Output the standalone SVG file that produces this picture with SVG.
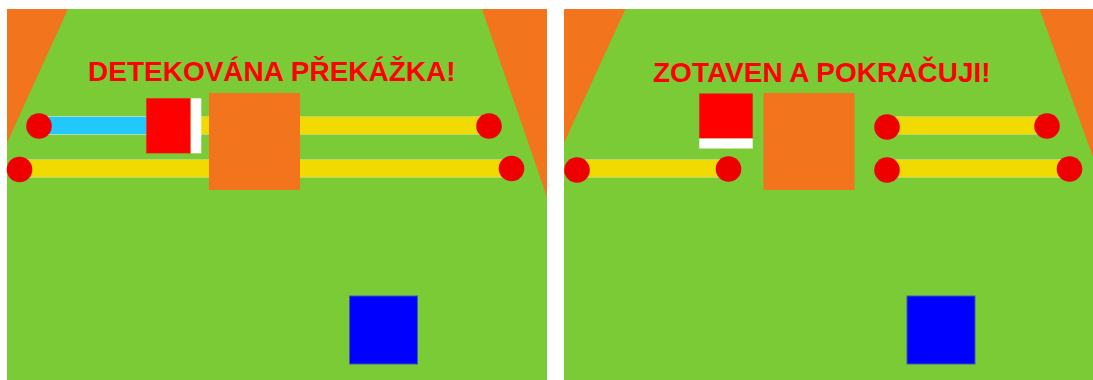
<svg xmlns="http://www.w3.org/2000/svg" width="1093" height="380" viewBox="0 0 1093 380">
<style>
.field{fill:#7acb36}
.wall{fill:#f2741d}
.bar{fill:#f0da00;stroke:#b9d96a;stroke-width:1}
.cyan{fill:#22c7fb;stroke:#a9dcc0;stroke-width:1}
.joint{fill:#ee0000}
.robot{fill:#ff0000}
.bumper{fill:#ffffff}
.obstacle{fill:#f2741d}
.goal{fill:#0000ff;stroke:#3a5fa8;stroke-width:1}
.msg{font-family:"Liberation Sans",Arial,sans-serif;font-weight:bold;font-size:28px;fill:#ff0000}
</style>
<rect width="1093" height="380" fill="#ffffff"/>
<g id="panel-left">
  <rect class="field" x="7" y="9" width="540" height="371"/>
  <polygon class="wall" points="7,9 68,9 7,143"/>
  <polygon class="wall" points="482,9 547,9 547,197"/>
  <text class="msg" x="88" y="81">DETEKOVÁNA PŘEKÁŽKA!</text>
  <g id="left-bar-top">
    <rect class="bar" x="39" y="116.5" width="450" height="18"/>
    <rect class="cyan" x="39" y="116.5" width="108" height="18"/>
    <circle class="joint" cx="39" cy="126" r="12.8"/>
    <circle class="joint" cx="489" cy="126" r="12.8"/>
  </g>
  <g id="left-bar-bottom">
    <rect class="bar" x="19.5" y="159.5" width="492" height="18"/>
    <circle class="joint" cx="19.5" cy="169.5" r="12.8"/>
    <circle class="joint" cx="511.5" cy="168.5" r="12.8"/>
  </g>
  <g id="left-robot">
    <rect class="robot" x="146.3" y="98.3" width="44.4" height="55"/>
    <rect class="bumper" x="190.7" y="98.3" width="10.6" height="55"/>
  </g>
  <rect id="left-obstacle" class="obstacle" x="209" y="93" width="91" height="97"/>
  <rect id="left-goal" class="goal" x="349.5" y="296" width="68" height="68"/>
</g>
<g id="panel-right">
  <rect class="field" x="564" y="9" width="529" height="371"/>
  <polygon class="wall" points="564,9 625.5,9 564,143"/>
  <polygon class="wall" points="1039.5,9 1093,9 1093,157"/>
  <text class="msg" x="653" y="82">ZOTAVEN A POKRAČUJI!</text>
  <g id="right-bar-left">
    <rect class="bar" x="577" y="159.5" width="151" height="18"/>
    <circle class="joint" cx="577" cy="170" r="12.8"/>
    <circle class="joint" cx="728.5" cy="169" r="12.8"/>
  </g>
  <g id="right-bar-top">
    <rect class="bar" x="887" y="116.5" width="160" height="18"/>
    <circle class="joint" cx="887" cy="127" r="12.8"/>
    <circle class="joint" cx="1047" cy="126" r="12.8"/>
  </g>
  <g id="right-bar-bottom">
    <rect class="bar" x="887" y="159.5" width="182" height="18"/>
    <circle class="joint" cx="887" cy="170" r="12.8"/>
    <circle class="joint" cx="1069.5" cy="169" r="12.8"/>
  </g>
  <g id="right-robot">
    <rect class="robot" x="699.3" y="93.5" width="53.4" height="45"/>
    <rect class="bumper" x="699.3" y="138.5" width="53.4" height="10"/>
  </g>
  <rect id="right-obstacle" class="obstacle" x="763.5" y="93" width="91" height="97"/>
  <rect id="right-goal" class="goal" x="907" y="296" width="68" height="68"/>
</g>
<g id="connectors"/>
</svg>
